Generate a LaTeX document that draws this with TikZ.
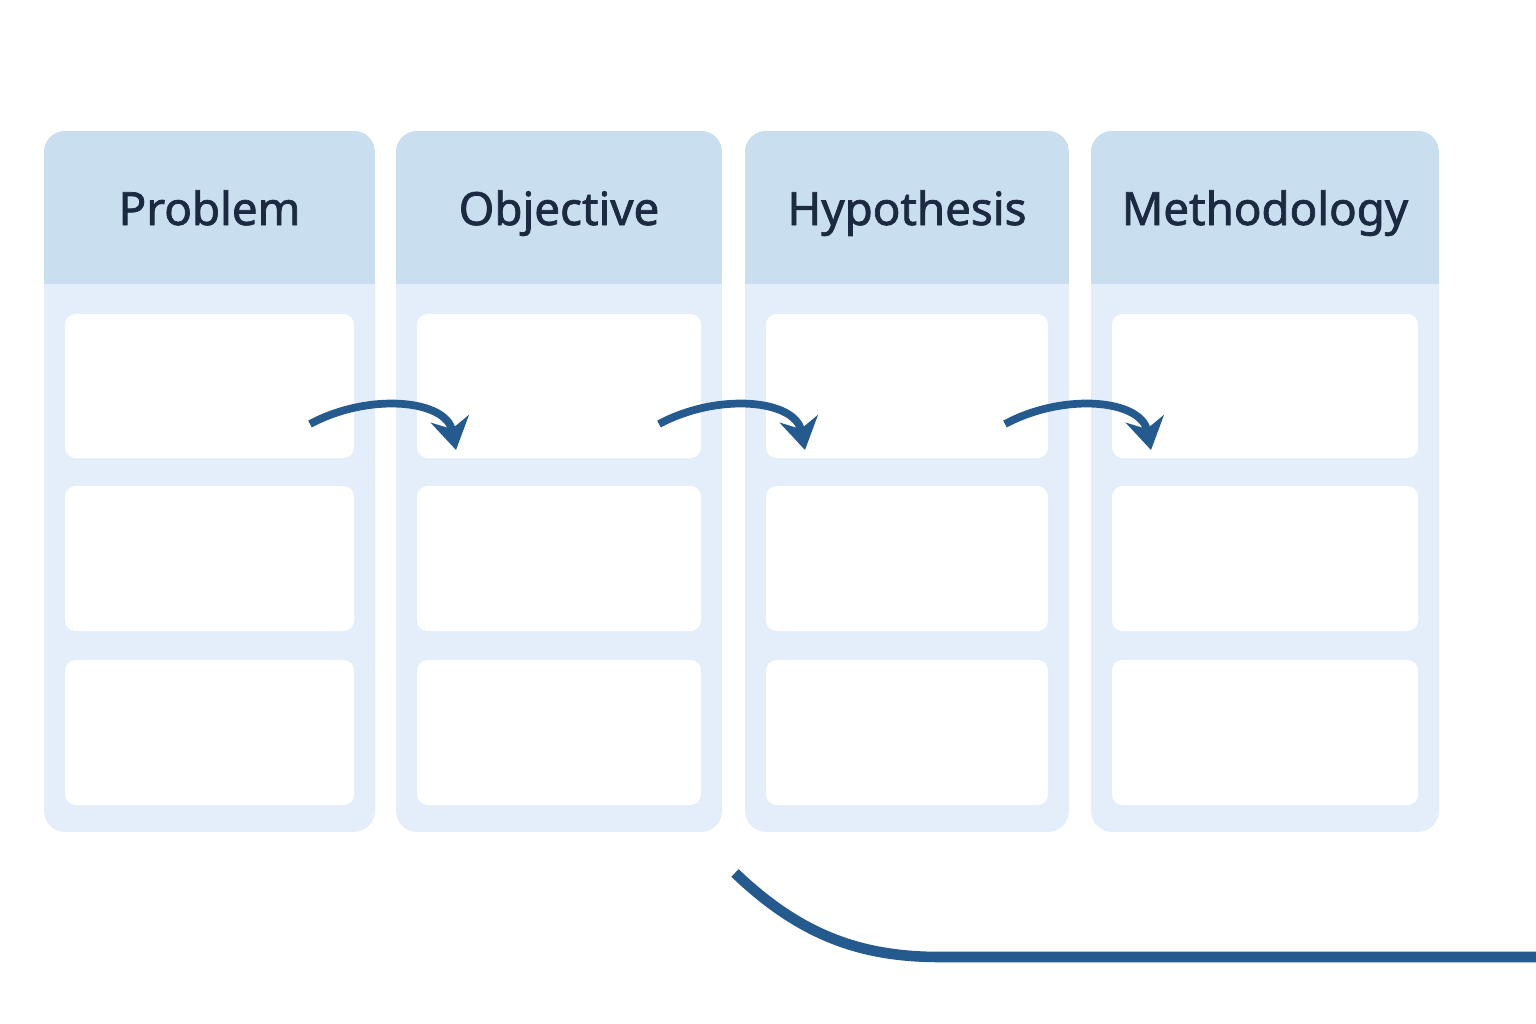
\documentclass[tikz,border=0pt]{standalone}
\usepackage{fontspec}
\setmainfont{Noto Sans}[FakeBold=1.6]
\usetikzlibrary{arrows.meta}
\definecolor{headblue}{HTML}{C9DEEF}
\definecolor{bodyblue}{HTML}{E3EEFA}
\definecolor{arrowblue}{HTML}{255A8E}
\definecolor{textnavy}{HTML}{1B2A40}
\tikzset{
  colbody/.style={fill=bodyblue, rounded corners=6pt},
  colhead/.style={fill=headblue},
  cellbox/.style={fill=white, rounded corners=3pt},
  headtext/.style={text=textnavy, anchor=base, font=\fontsize{13}{16}\selectfont\bfseries},
  flow/.style={draw=arrowblue, line width=2.2pt, -{Stealth[length=9pt,width=11pt]}}
}
\begin{document}
\begin{tikzpicture}[x=0.01cm,y=-0.01cm]
\useasboundingbox (0,0) rectangle (1536,1024);
% columns
\foreach \l/\r/\name/\txt in {44/375/p/Problem, 396/722/o/Objective, 745/1069/h/Hypothesis, 1091/1439/m/Methodology}{
  \fill[colbody] (\l,131) rectangle (\r,832);
  \begin{scope}
    \clip[rounded corners=6pt] (\l,131) rectangle (\r,400);
    \fill[colhead] (\l,131) rectangle (\r,284);
  \end{scope}
  \node[headtext] (\name) at ({(\l+\r)/2},225) {\txt};
  \foreach \t/\b/\k in {314/458/1, 486/631/2, 660/805/3}
    \fill[cellbox] (\l+21,\t) rectangle (\r-21,\b) coordinate (\name\k);
}
% arrows
\coordinate (a1) at (310,424);  \coordinate (b1) at (456,450);
\coordinate (a2) at (659,424);  \coordinate (b2) at (805,450);
\coordinate (a3) at (1005,424); \coordinate (b3) at (1151,450);
\foreach \i in {1,2,3}
  \draw[flow] (a\i) .. controls +(60,-32) and +(-10,-50) .. (b\i);
\coordinate (c0) at (735,873);
\coordinate (c1) at (1536,957);
\draw[arrowblue, line width=3pt] (c0) .. controls (800,935) and (860,957) .. (940,957) -- (c1);
\end{tikzpicture}
\end{document}
